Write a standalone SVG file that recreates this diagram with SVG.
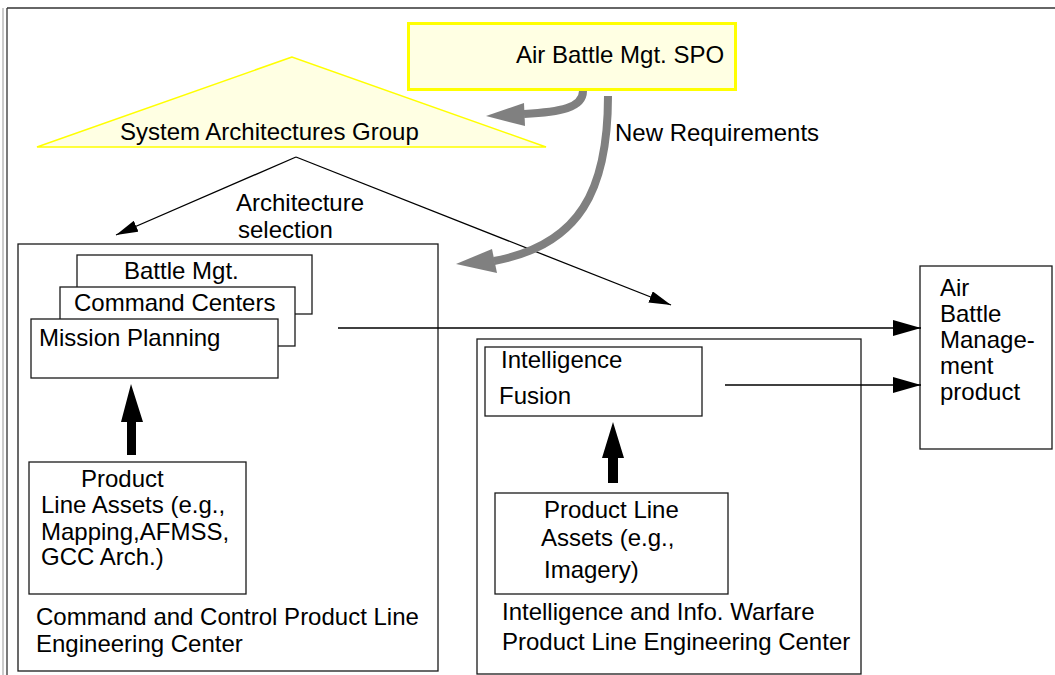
<svg xmlns="http://www.w3.org/2000/svg" width="1055" height="675" viewBox="0 0 1055 675">
<style>
text{font-family:"Liberation Sans",Arial,Helvetica,sans-serif;font-size:24px;fill:#000}
.box{fill:#fff;stroke:#1a1a1a;stroke-width:1.3}
.thin{fill:none;stroke:#000;stroke-width:1.3}
.gray{fill:none;stroke:#808080;stroke-width:8}
.grayhead{fill:#808080}
.thick{fill:#000}
</style>
<defs>
<marker id="ahBig" viewBox="0 0 28 16" refX="28" refY="8" markerWidth="28" markerHeight="16" markerUnits="userSpaceOnUse" orient="auto">
<path d="M0,0 L28,8 L0,16 Z" fill="#000"/>
</marker>
<marker id="ahSmall" viewBox="0 0 22 12" refX="22" refY="6" markerWidth="22" markerHeight="12" markerUnits="userSpaceOnUse" orient="auto">
<path d="M0,0 L22,6 L0,12 Z" fill="#000"/>
</marker>
</defs>
<rect width="1055" height="675" fill="#fff"/>
<g id="frame">
<line x1="3" y1="8" x2="3" y2="675" stroke="#999" stroke-width="1"/>
<line x1="7" y1="8" x2="7" y2="675" stroke="#333" stroke-width="1.3"/>
<line x1="7" y1="8" x2="1055" y2="8" stroke="#333" stroke-width="1.6"/>
</g>
<g id="spo">
<rect x="408.5" y="23.5" width="327" height="66" fill="#ffffe3" stroke="#ffff00" stroke-width="3"/>
<text x="516" y="63">Air Battle Mgt. SPO</text>
</g>
<g id="sag">
<polygon points="292,57 37,147 546,147" fill="#ffffe3" stroke="#ffff00" stroke-width="1.5"/>
<text x="120" y="140">System Architectures Group</text>
</g>
<g id="c2center">
<rect class="box" x="18" y="244" width="420" height="427"/>
<text x="36" y="625">Command and Control Product Line</text>
<text x="36" y="652">Engineering Center</text>
</g>
<g id="battlemgt">
<rect class="box" x="77" y="255" width="235" height="59"/>
<text x="124" y="279">Battle Mgt.</text>
</g>
<g id="cmdcenters">
<rect class="box" x="60" y="287" width="235" height="59"/>
<text x="74" y="311">Command Centers</text>
</g>
<g id="missionplanning">
<rect class="box" x="31" y="319" width="247" height="59"/>
<text x="39" y="346">Mission Planning</text>
</g>
<g id="c2assets">
<rect class="box" x="29" y="462" width="217" height="132"/>
<text x="81" y="487">Product</text>
<text x="41" y="513">Line Assets (e.g.,</text>
<text x="41" y="540">Mapping,AFMSS,</text>
<text x="41" y="565">GCC Arch.)</text>
</g>
<g id="iiwcenter">
<rect class="box" x="477" y="339" width="384" height="335"/>
<text x="502" y="620">Intelligence and Info. Warfare</text>
<text x="502" y="650">Product Line Engineering Center</text>
</g>
<g id="fusion">
<rect class="box" x="485" y="347" width="217" height="69"/>
<text x="501" y="368">Intelligence</text>
<text x="499" y="404">Fusion</text>
</g>
<g id="iiwassets">
<rect class="box" x="495" y="493" width="233" height="101"/>
<text x="544" y="518">Product Line</text>
<text x="541" y="546">Assets (e.g.,</text>
<text x="544" y="578">Imagery)</text>
</g>
<g id="product">
<rect class="box" x="920" y="266" width="132" height="183"/>
<text x="940" y="296">Air</text>
<text x="940" y="322">Battle</text>
<text x="940" y="348">Manage-</text>
<text x="940" y="374">ment</text>
<text x="940" y="400">product</text>
</g>
<g id="connectors">
<line class="thin" x1="296" y1="157" x2="116" y2="235" marker-end="url(#ahSmall)"/>
<line class="thin" x1="296" y1="157" x2="671" y2="305" marker-end="url(#ahSmall)"/>
<line class="thin" x1="338" y1="328" x2="921" y2="328" marker-end="url(#ahBig)"/>
<line class="thin" x1="725" y1="385" x2="921" y2="385" marker-end="url(#ahBig)"/>
<polygon class="thick" points="127,455 136,455 136,422 143,422 131,384 121,422 127,422"/>
<polygon class="thick" points="608,483 618,483 618,458 624,458 613,422 602,458 608,458"/>
<path class="gray" d="M583,91 C583,108 560,112 524,114"/>
<polygon class="grayhead" points="486,116 524,103 525,126"/>
<path class="gray" d="M608,96 C608,190 580,245 494,261"/>
<polygon class="grayhead" points="456,264 492,249 497,273"/>
<text x="236" y="211">Architecture</text>
<text x="238" y="238">selection</text>
<text x="615" y="141">New Requirements</text>
</g>
</svg>
